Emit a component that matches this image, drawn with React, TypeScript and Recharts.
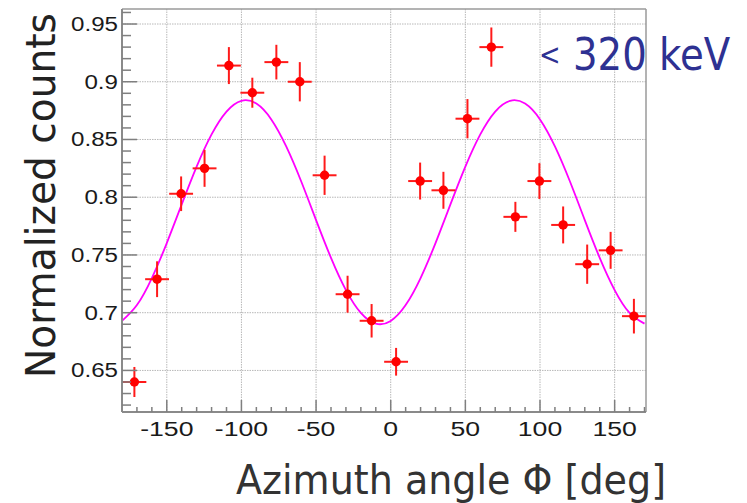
import React from "react";
import {
  ComposedChart,
  Scatter,
  Line,
  XAxis,
  YAxis,
  ZAxis,
  CartesianGrid,
  ErrorBar,
  ReferenceLine,
} from "recharts";

// Measured points (azimuth bin centre, normalized counts, errors)
const angles = [-171.7, -156.5, -140.4, -124.7, -108.4, -92.7, -76.6, -60.9, -44.3, -28.9, -12.8, 3.6, 19.7, 35.3, 51.4, 67.4, 83.5, 99.6, 115.5, 131.6, 147.3, 162.9];
const counts = [0.64, 0.729, 0.803, 0.825, 0.914, 0.8905, 0.917, 0.9, 0.819, 0.716, 0.693, 0.6575, 0.814, 0.806, 0.868, 0.93, 0.783, 0.814, 0.776, 0.742, 0.754, 0.697];
const countErrors = [0.013, 0.0155, 0.015, 0.016, 0.016, 0.013, 0.015, 0.017, 0.017, 0.016, 0.0145, 0.012, 0.016, 0.016, 0.017, 0.017, 0.013, 0.0155, 0.016, 0.017, 0.016, 0.015];
const angleHalfWidths = [8, 8, 8, 8, 8, 8, 8, 8, 8, 8, 8, 8, 8, 8, 8, 8, 8, 8, 8, 8, 8, 8];

// Fit curve samples
const fitAngles = [-180, -170, -160, -150, -140, -130, -120, -110, -100, -90, -80, -70, -60, -50, -40, -30, -20, -10, 0, 10, 20, 30, 40, 50, 60, 70, 80, 90, 100, 110, 120, 130, 140, 150, 160, 170];
const fitValues = [0.6929, 0.7066, 0.73, 0.7603, 0.7938, 0.8265, 0.8544, 0.8742, 0.8835, 0.8811, 0.8674, 0.844, 0.8138, 0.7802, 0.7475, 0.7196, 0.6998, 0.6905, 0.6929, 0.7066, 0.73, 0.7603, 0.7938, 0.8265, 0.8544, 0.8742, 0.8835, 0.8811, 0.8674, 0.844, 0.8138, 0.7802, 0.7475, 0.7196, 0.6998, 0.6905];

// Axes
const xDomain = [-180, 171];
const yDomain = [0.614, 0.963];
const xMajorTicks = [-150, -100, -50, 0, 50, 100, 150];
const xTickLabels = ["-150", "-100", "-50", "0", "50", "100", "150"];
const xAllTicks = [-170, -160, -150, -140, -130, -120, -110, -100, -90, -80, -70, -60, -50, -40, -30, -20, -10, 0, 10, 20, 30, 40, 50, 60, 70, 80, 90, 100, 110, 120, 130, 140, 150, 160, 170];
const yMajorTicks = [0.65, 0.7, 0.75, 0.8, 0.85, 0.9, 0.95];
const yTickLabels = ["0.65", "0.7", "0.75", "0.8", "0.85", "0.9", "0.95"];
const yAllTicks = [0.62, 0.63, 0.64, 0.65, 0.66, 0.67, 0.68, 0.69, 0.7, 0.71, 0.72, 0.73, 0.74, 0.75, 0.76, 0.77, 0.78, 0.79, 0.8, 0.81, 0.82, 0.83, 0.84, 0.85, 0.86, 0.87, 0.88, 0.89, 0.9, 0.91, 0.92, 0.93, 0.94, 0.95, 0.96];

const xTitle = "Azimuth angle \u03A6 [deg]";
const yTitle = "Normalized counts";
const energySign = "<";
const energyValue = " 320 keV";

const points = angles.map((a, i) => ({
  x: a,
  y: counts[i],
  ex: angleHalfWidths[i],
  ey: countErrors[i],
}));
const fit = fitAngles.map((a, i) => ({ x: a, y: fitValues[i] }));

const majorIndex = (list: number[], v: number) =>
  list.findIndex((m) => Math.abs(m - v) < 1e-6);

const TICK_COLOR = "#7f7f7f";
const LABEL_FONT = "'Liberation Sans', Arial, sans-serif";

const YTick = (props: any) => {
  const { x, y, payload } = props;
  const idx = majorIndex(yMajorTicks, payload.value);
  const major = idx >= 0;
  return (
    <g>
      <line x1={x} x2={x + (major ? 15 : 9)} y1={y} y2={y} stroke={TICK_COLOR} strokeWidth={1.5} />
      {major && (
        <text
          x={0}
          y={0}
          transform={`translate(${x - 4},${y}) scale(1.15,1)`}
          textAnchor="end"
          dominantBaseline="central"
          fontFamily={LABEL_FONT}
          fontSize={21}
          fill="#1a1a1a"
        >
          {yTickLabels[idx]}
        </text>
      )}
    </g>
  );
};

const XTick = (props: any) => {
  const { x, y, payload } = props;
  const idx = majorIndex(xMajorTicks, payload.value);
  const major = idx >= 0;
  return (
    <g>
      <line x1={x} x2={x} y1={y} y2={y - (major ? 12 : 5)} stroke={TICK_COLOR} strokeWidth={1.5} />
      {major && (
        <text
          x={0}
          y={0}
          transform={`translate(${x},${y + 23.5}) scale(1.3,1)`}
          textAnchor="middle"
          fontFamily={LABEL_FONT}
          fontSize={20.5}
          fill="#1a1a1a"
        >
          {xTickLabels[idx]}
        </text>
      )}
    </g>
  );
};

export default function App() {
  return (
    <div style={{ position: "absolute", left: 0, top: 0, width: 747, height: 503, background: "#fff" }}>
      <ComposedChart
        width={747}
        height={503}
        margin={{ top: 9, right: 101, bottom: 51, left: 0 }}
      >
        <CartesianGrid
          horizontalValues={yMajorTicks}
          verticalValues={xMajorTicks}
          stroke="#b8b8b8"
          strokeDasharray="1.5 1"
          strokeWidth={1}
        />
        <XAxis
          type="number"
          dataKey="x"
          domain={xDomain}
          allowDataOverflow
          ticks={xAllTicks}
          interval={0}
          tickSize={0}
          tickMargin={0}
          tickLine={false}
          tick={XTick}
          height={40}
          axisLine={{ stroke: "#8a8a8a", strokeWidth: 2 }}
        />
        <YAxis
          type="number"
          dataKey="y"
          domain={yDomain}
          allowDataOverflow
          ticks={yAllTicks}
          interval={0}
          tickSize={0}
          tickMargin={0}
          tickLine={false}
          tick={YTick}
          width={122}
          axisLine={{ stroke: "#8a8a8a", strokeWidth: 2 }}
        />
        <ZAxis range={[70, 70]} />
        <ReferenceLine y={yDomain[1]} stroke="#9a9a9a" strokeWidth={1.5} />
        <ReferenceLine x={xDomain[1]} stroke="#9a9a9a" strokeWidth={1.5} />
        <Line
          data={fit}
          dataKey="y"
          type="natural"
          dot={false}
          activeDot={false}
          stroke="#ff00ff"
          strokeWidth={1.8}
          isAnimationActive={false}
        />
        <Scatter data={points} dataKey="y" fill="#ff0000" isAnimationActive={false}>
          <ErrorBar dataKey="ex" direction="x" width={0} stroke="#ff1a1a" strokeWidth={2} />
          <ErrorBar dataKey="ey" direction="y" width={0} stroke="#ff1a1a" strokeWidth={2} />
        </Scatter>
        <text
          x={0}
          y={0}
          transform="translate(539,70) scale(0.86,1)"
          fontFamily="'DejaVu Sans', sans-serif"
          fill="#2e3192"
        >
          <tspan fontSize={30} dy={-5}>{energySign}</tspan>
          <tspan fontSize={45} dy={5}>{energyValue}</tspan>
        </text>
        <text
          x={236}
          y={494}
          textLength={430}
          lengthAdjust="spacingAndGlyphs"
          fontFamily="'DejaVu Sans', sans-serif"
          fontSize={40}
          fill="#333333"
        >
          {xTitle}
        </text>
        <text
          x={0}
          y={0}
          transform="translate(55,195.5) rotate(-90)"
          textAnchor="middle"
          textLength={365}
          lengthAdjust="spacingAndGlyphs"
          fontFamily="'DejaVu Sans', sans-serif"
          fontSize={41}
          fill="#222222"
        >
          {yTitle}
        </text>
      </ComposedChart>
    </div>
  );
}
